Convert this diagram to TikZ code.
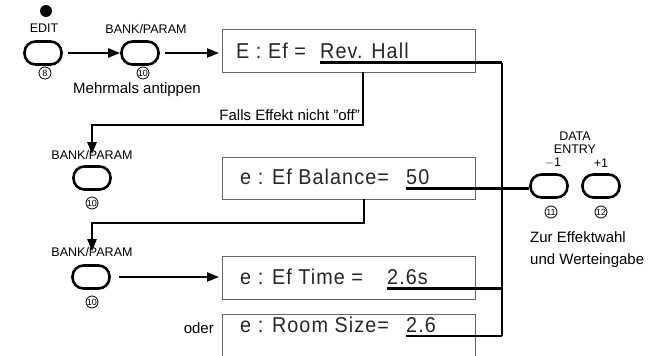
\documentclass[tikz,border=0pt]{standalone}
\usepackage{fontspec}
\setmainfont{Liberation Sans}
\newfontfamily\lcd[FakeStretch=0.92,LetterSpace=5]{Liberation Sans}
\usetikzlibrary{arrows.meta}
\begin{document}
\begin{tikzpicture}[x=1pt,y=-1pt,
  btn/.style={draw, line width=2.6pt, rounded corners=11pt, minimum width=37pt, minimum height=23pt, inner sep=0pt},
  lbl/.style={font=\fontsize{12.5}{13}\selectfont, inner sep=0pt},
  txt/.style={font=\fontsize{15}{16}\selectfont, inner sep=0pt},
  num/.style={draw, circle, line width=0.8pt, minimum size=12pt, inner sep=0pt, font=\fontsize{9}{9}\selectfont},
  lcdbox/.style={draw=black!60, line width=0.7pt, minimum width=253pt, minimum height=43pt, anchor=north west, inner sep=0pt},
  lcdtxt/.style={font=\lcd\fontsize{21.5}{23}\selectfont, text=black!85, inner sep=0pt, anchor=base west},
  conn/.style={line width=2.2pt},
  arr/.style={conn, -{Triangle[length=12pt,width=9pt]}}
]
\useasboundingbox (0,0) rectangle (649,356);

% ---- top row
\node[circle, fill, minimum size=12pt, inner sep=0pt] (dot) at (46,11) {};
\node[lbl] (editl) at (44,28) {EDIT};
\node[btn] (edit) at (43,53) {};
\node[num] (n8) at (45,73) {8};

\node[lbl] (bp1l) at (146,29) {BANK/PARAM};
\node[btn] (bp1) at (140,53) {};
\node[num] (n10a) at (143,73) {\kern-0.3pt10};
\node[txt] (mehr) at (137,90) {Mehrmals antippen};

\node[lcdbox] (b1) at (222,29) {};
\node[lcdtxt] (b1a) at (236,58) {E : Ef =};
\node[lcdtxt] (b1v) at (320,58) {Rev. Hall};

\draw[arr] ([xshift=5pt]edit.east) -- (bp1.west);
\draw[arr] ([xshift=5pt]bp1.east) -- ([xshift=-3pt]b1.west |- bp1.east);

% ---- second row
\node[txt, anchor=base east] (falls) at (360,120) {Falls Effekt nicht "off"};
\node[lbl] (bp2l) at (92,155) {BANK/PARAM};
\node[btn] (bp2) at (92,178) {};
\node[num] (n10b) at (92,203) {10};

\node[lcdbox, minimum height=42pt] (b2) at (222,157) {};
\node[lcdtxt] (b2a) at (240,184) {e : Ef Balance=};
\node[lcdtxt] (b2v) at (406,184) {50};

\coordinate (k1top) at (363,72);
\coordinate (k1) at (363,125);
\draw[arr] (k1top) -- (k1) -| ([yshift=-4pt]bp2l.north);

% ---- data entry
\node[lbl] (data) at (575,136) {DATA};
\node[lbl] (entry) at (575,149) {ENTRY};
\node[lbl] (m1) at (553,163) {$-$1};
\node[lbl] (p1) at (601,163) {+1};
\node[btn] (dem) at (549,186) {};
\node[btn] (dep) at (601,186) {};
\node[num] (n11) at (551,212) {11};
\node[num] (n12) at (601,212) {12};
\node[txt, anchor=base west] (zur1) at (530,242) {Zur Effektwahl};
\node[txt, anchor=base west] (zur2) at (530,264) {und Werteingabe};

\coordinate (u2) at (406,188.5);
\draw[conn] (u2) -- (dem.west |- u2);

% ---- third row
\coordinate (k2top) at (364,199);
\coordinate (k2) at (364,223);
\node[lbl] (bp3l) at (92,252) {BANK/PARAM};
\node[btn] (bp3) at (91,277) {};
\node[num] (n10c) at (92,302) {10};
\draw[arr] (k2top) -- (k2) -| ([yshift=-4pt]bp3l.north);

\node[lcdbox] (b3) at (222,256) {};
\node[lcdtxt] (b3a) at (240,284) {e : Ef Time =};
\node[lcdtxt] (b3v) at (387,284) {2.6s};
\draw[arr] ([xshift=8pt]bp3.east) -- ([xshift=-3pt]b3.west |- bp3.east);

% ---- fourth row (open at the bottom)
\draw[draw=black!60, line width=0.7pt] (222,356) |- (475,314) -- (475,356);
\node[txt, anchor=base east] (oder) at (214,333) {oder};
\node[lcdtxt] (b4a) at (240,332) {e : Room Size=};
\node[lcdtxt] (b4v) at (406,332) {2.6};

% ---- collecting line
\coordinate (u1) at (320,62.5);
\coordinate (j1) at (502,62.5);
\coordinate (u3) at (387,288.5);
\coordinate (j3) at (502,288.5);
\coordinate (u4) at (406,336);
\coordinate (j4) at (502,336);
\draw[conn] (u1) -- (j1);
\draw[line width=2.6pt] (j1) -- (j4);
\draw[conn] (u3) -- (j3);
\draw[conn] (u4) -- (j4);
\end{tikzpicture}
\end{document}
